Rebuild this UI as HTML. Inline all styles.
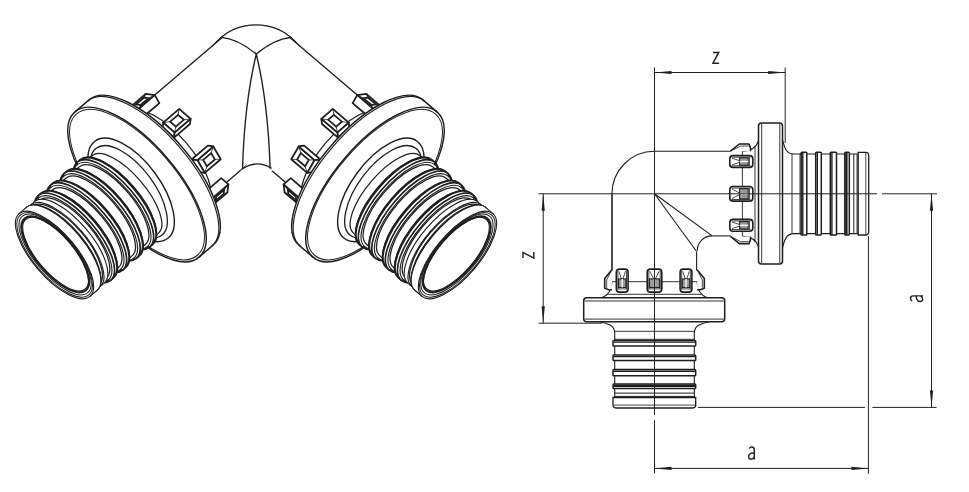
<!DOCTYPE html>
<html><head><meta charset="utf-8"><style>
html,body{margin:0;padding:0;background:#fff;width:969px;height:492px;overflow:hidden;font-family:"Liberation Sans",sans-serif}
svg{display:block}
</style></head><body>
<svg width="969" height="492" viewBox="0 0 969 492">
<defs>
<clipPath id="cl"><rect x="0" y="0" width="256" height="492"/></clipPath>
<clipPath id="cr"><rect x="256" y="0" width="300" height="492"/></clipPath>
</defs>
<rect width="969" height="492" fill="#fff"/>
<g fill="none" stroke-linecap="round">
<circle cx="256" cy="79.6" r="54.7" fill="#fff" stroke="#1e1e1e" stroke-width="1.35"/><g clip-path="url(#cl)"><g transform="translate(54.5,255) rotate(-40.5)"><path d="M120,-56.5 L264.99,-56.5 A22.6,56.5 0 0 1 264.99,56.5 L120,56.5 Z" fill="#fff" stroke="none"/><path d="M120,-56.5 L268,-56.5 M120,56.5 L205,56.5" stroke="#1e1e1e" stroke-width="1.35" fill="none"/></g></g><g clip-path="url(#cr)"><g transform="translate(512,0) scale(-1,1)"><g transform="translate(54.5,255) rotate(-40.5)"><path d="M120,-56.5 L264.99,-56.5 A22.6,56.5 0 0 1 264.99,56.5 L120,56.5 Z" fill="#fff" stroke="none"/><path d="M120,-56.5 L268,-56.5 M120,56.5 L205,56.5" stroke="#1e1e1e" stroke-width="1.35" fill="none"/></g></g></g><path d="M221.2,37.4 Q237.3,38.6 256.3,54 Q275.3,38.6 291.4,37.4" stroke="#1e1e1e" stroke-width="1.35" fill="none" stroke-linejoin="miter"/><path d="M240.5,171 L256,154.5 L273,171 Z" fill="#fff" stroke="none"/><path d="M242.5,168.8 Q256,159.5 271.1,168" stroke="#1e1e1e" stroke-width="1.35" fill="none"/><path d="M256.3,54 Q244.5,103 242.5,168.8 M256.3,54 Q268.1,103 270.1,168.2" stroke="#1e1e1e" stroke-width="1.35" fill="none"/><g transform="translate(54.5,255) rotate(-40.5)"><path d="M122,-60 L149,-60 A24,60 0 0 1 149,60 L122,60 A24,60 0 0 1 122,-60Z" fill="#fff" stroke="#1e1e1e" stroke-width="1.25"/><path d="M151.02,64.76 L172.02,64.76 L178.04,59.28 L157.04,59.28Z" fill="#fff" stroke="#1e1e1e" stroke-width="1.75" stroke-linejoin="round"/><path d="M157.78,63.39 L168.28,63.39 L171.28,60.65 L160.78,60.65Z" fill="none" stroke="#1e1e1e" stroke-width="1.75"/><path d="M151.02,64.76 L157.78,63.39" stroke="#1e1e1e" stroke-width="0.7"/><path d="M172.02,64.76 L168.28,63.39" stroke="#1e1e1e" stroke-width="0.7"/><path d="M178.04,59.28 L171.28,60.65" stroke="#1e1e1e" stroke-width="0.7"/><path d="M157.04,59.28 L160.78,60.65" stroke="#1e1e1e" stroke-width="0.7"/><path d="M149.65,55.36 L151.02,64.76 L157.04,59.28 L155.67,49.89Z" fill="#fff" stroke="#1e1e1e" stroke-width="1.75" stroke-linejoin="round"/><path d="M155.67,49.89 L176.67,49.89 L178.04,59.28 L157.04,59.28Z" fill="#fff" stroke="#1e1e1e" stroke-width="1.75" stroke-linejoin="round"/><path d="M159.06,-56.44 L180.06,-56.44 L174.26,-63.2 L153.26,-63.2Z" fill="#fff" stroke="#1e1e1e" stroke-width="1.75" stroke-linejoin="round"/><path d="M162.86,-58.13 L173.36,-58.13 L170.46,-61.51 L159.96,-61.51Z" fill="none" stroke="#1e1e1e" stroke-width="1.75"/><path d="M159.06,-56.44 L162.86,-58.13" stroke="#1e1e1e" stroke-width="0.7"/><path d="M180.06,-56.44 L173.36,-58.13" stroke="#1e1e1e" stroke-width="0.7"/><path d="M174.26,-63.2 L170.46,-61.51" stroke="#1e1e1e" stroke-width="0.7"/><path d="M153.26,-63.2 L159.96,-61.51" stroke="#1e1e1e" stroke-width="0.7"/><path d="M157.37,-47.37 L159.06,-56.44 L153.26,-63.2 L151.57,-54.13Z" fill="#fff" stroke="#1e1e1e" stroke-width="1.75" stroke-linejoin="round"/><path d="M157.37,-47.37 L178.37,-47.37 L180.06,-56.44 L159.06,-56.44Z" fill="#fff" stroke="#1e1e1e" stroke-width="1.75" stroke-linejoin="round"/><path d="M167.57,35.14 L188.57,35.14 L191.28,20.64 L170.28,20.64Z" fill="#fff" stroke="#1e1e1e" stroke-width="1.75" stroke-linejoin="round"/><path d="M173.5,31.52 L184,31.52 L185.35,24.27 L174.85,24.27Z" fill="none" stroke="#1e1e1e" stroke-width="1.75"/><path d="M167.57,35.14 L173.5,31.52" stroke="#1e1e1e" stroke-width="0.7"/><path d="M188.57,35.14 L184,31.52" stroke="#1e1e1e" stroke-width="0.7"/><path d="M191.28,20.64 L185.35,24.27" stroke="#1e1e1e" stroke-width="0.7"/><path d="M170.28,20.64 L174.85,24.27" stroke="#1e1e1e" stroke-width="0.7"/><path d="M163.95,30.92 L167.57,35.14 L170.28,20.64 L166.65,16.42Z" fill="#fff" stroke="#1e1e1e" stroke-width="1.75" stroke-linejoin="round"/><path d="M166.65,16.42 L187.65,16.42 L191.28,20.64 L170.28,20.64Z" fill="#fff" stroke="#1e1e1e" stroke-width="1.75" stroke-linejoin="round"/><path d="M170.9,-15.06 L191.9,-15.06 L189.71,-30.09 L168.71,-30.09Z" fill="#fff" stroke="#1e1e1e" stroke-width="1.75" stroke-linejoin="round"/><path d="M175.61,-18.81 L186.11,-18.81 L185.01,-26.33 L174.51,-26.33Z" fill="none" stroke="#1e1e1e" stroke-width="1.75"/><path d="M170.9,-15.06 L175.61,-18.81" stroke="#1e1e1e" stroke-width="0.7"/><path d="M191.9,-15.06 L186.11,-18.81" stroke="#1e1e1e" stroke-width="0.7"/><path d="M189.71,-30.09 L185.01,-26.33" stroke="#1e1e1e" stroke-width="0.7"/><path d="M168.71,-30.09 L174.51,-26.33" stroke="#1e1e1e" stroke-width="0.7"/><path d="M167.14,-11.64 L170.9,-15.06 L168.71,-30.09 L164.95,-26.67Z" fill="#fff" stroke="#1e1e1e" stroke-width="1.75" stroke-linejoin="round"/><path d="M167.14,-11.64 L188.14,-11.64 L191.9,-15.06 L170.9,-15.06Z" fill="#fff" stroke="#1e1e1e" stroke-width="1.75" stroke-linejoin="round"/><path d="M108.5,-95.5 L127,-95.5 A40.11,95.5 0 0 1 127,95.5 L108.5,95.5 A40.11,95.5 0 0 1 108.5,-95.5Z" fill="#fff" stroke="#1e1e1e" stroke-width="1.4375"/><path d="M108.5,-95.5 A40.11,95.5 0 0 1 108.5,95.5" fill="none" stroke="#1e1e1e" stroke-width="1.4375"/><path d="M125,-95.5 A40.11,95.5 0 0 1 125,95.5" fill="none" stroke="#1e1e1e" stroke-width="1.125"/><ellipse cx="108.5" cy="0" rx="39.06" ry="93" fill="none" stroke="#1e1e1e" stroke-width="1.0"/><ellipse cx="0" cy="0" rx="29.1" ry="60.7" transform="translate(100.6,0.3) rotate(3.8)" fill="#fff" stroke="#1e1e1e" stroke-width="1.4"/><ellipse cx="0" cy="0" rx="25.5" ry="54.5" transform="translate(97.5,0.3) rotate(3.8)" fill="#fff" stroke="#1e1e1e" stroke-width="1.3"/><path d="M83,-51 L93,-51 A20.4,51 0 0 1 93,51 L83,51 A20.4,51 0 0 1 83,-51Z" fill="#fff" stroke="#1e1e1e" stroke-width="1.25"/><path d="M83,-51 A20.4,51 0 0 1 83,51" fill="none" stroke="#1e1e1e" stroke-width="1.25"/><path d="M81.4,-55.5 L83,-53.9 A21.56,53.9 0 0 1 83,53.9 L81.4,55.5 A22.2,55.5 0 0 1 81.4,-55.5Z" fill="#fff" stroke="#1e1e1e" stroke-width="1.125"/><path d="M81.4,-55.5 A22.2,55.5 0 0 1 81.4,55.5" fill="none" stroke="#1e1e1e" stroke-width="1.125"/><path d="M77.6,-55.5 L81.4,-55.5 A22.2,55.5 0 0 1 81.4,55.5 L77.6,55.5 A22.2,55.5 0 0 1 77.6,-55.5Z" fill="#fff" stroke="#1e1e1e" stroke-width="2.125"/><path d="M77.6,-55.5 A22.2,55.5 0 0 1 77.6,55.5" fill="none" stroke="#1e1e1e" stroke-width="2.125"/><path d="M76,-53.9 L77.6,-55.5 A22.2,55.5 0 0 1 77.6,55.5 L76,53.9 A21.56,53.9 0 0 1 76,-53.9Z" fill="#fff" stroke="#1e1e1e" stroke-width="1.125"/><path d="M76,-53.9 A21.56,53.9 0 0 1 76,53.9" fill="none" stroke="#1e1e1e" stroke-width="1.125"/><path d="M65.4,-51 L76,-51 A20.4,51 0 0 1 76,51 L65.4,51 A20.4,51 0 0 1 65.4,-51Z" fill="#fff" stroke="#1e1e1e" stroke-width="1.25"/><path d="M65.4,-51 A20.4,51 0 0 1 65.4,51" fill="none" stroke="#1e1e1e" stroke-width="1.25"/><path d="M63.8,-55.5 L65.4,-53.9 A21.56,53.9 0 0 1 65.4,53.9 L63.8,55.5 A22.2,55.5 0 0 1 63.8,-55.5Z" fill="#fff" stroke="#1e1e1e" stroke-width="1.125"/><path d="M63.8,-55.5 A22.2,55.5 0 0 1 63.8,55.5" fill="none" stroke="#1e1e1e" stroke-width="1.125"/><path d="M60,-55.5 L63.8,-55.5 A22.2,55.5 0 0 1 63.8,55.5 L60,55.5 A22.2,55.5 0 0 1 60,-55.5Z" fill="#fff" stroke="#1e1e1e" stroke-width="2.125"/><path d="M60,-55.5 A22.2,55.5 0 0 1 60,55.5" fill="none" stroke="#1e1e1e" stroke-width="2.125"/><path d="M58.4,-53.9 L60,-55.5 A22.2,55.5 0 0 1 60,55.5 L58.4,53.9 A21.56,53.9 0 0 1 58.4,-53.9Z" fill="#fff" stroke="#1e1e1e" stroke-width="1.125"/><path d="M58.4,-53.9 A21.56,53.9 0 0 1 58.4,53.9" fill="none" stroke="#1e1e1e" stroke-width="1.125"/><path d="M47.5,-51 L58.4,-51 A20.4,51 0 0 1 58.4,51 L47.5,51 A20.4,51 0 0 1 47.5,-51Z" fill="#fff" stroke="#1e1e1e" stroke-width="1.25"/><path d="M47.5,-51 A20.4,51 0 0 1 47.5,51" fill="none" stroke="#1e1e1e" stroke-width="1.25"/><path d="M45.9,-55.5 L47.5,-53.9 A21.56,53.9 0 0 1 47.5,53.9 L45.9,55.5 A22.2,55.5 0 0 1 45.9,-55.5Z" fill="#fff" stroke="#1e1e1e" stroke-width="1.125"/><path d="M45.9,-55.5 A22.2,55.5 0 0 1 45.9,55.5" fill="none" stroke="#1e1e1e" stroke-width="1.125"/><path d="M42.1,-55.5 L45.9,-55.5 A22.2,55.5 0 0 1 45.9,55.5 L42.1,55.5 A22.2,55.5 0 0 1 42.1,-55.5Z" fill="#fff" stroke="#1e1e1e" stroke-width="2.125"/><path d="M42.1,-55.5 A22.2,55.5 0 0 1 42.1,55.5" fill="none" stroke="#1e1e1e" stroke-width="2.125"/><path d="M40.5,-53.9 L42.1,-55.5 A22.2,55.5 0 0 1 42.1,55.5 L40.5,53.9 A21.56,53.9 0 0 1 40.5,-53.9Z" fill="#fff" stroke="#1e1e1e" stroke-width="1.125"/><path d="M40.5,-53.9 A21.56,53.9 0 0 1 40.5,53.9" fill="none" stroke="#1e1e1e" stroke-width="1.125"/><path d="M31.6,-51 L40.5,-51 A20.4,51 0 0 1 40.5,51 L31.6,51 A20.4,51 0 0 1 31.6,-51Z" fill="#fff" stroke="#1e1e1e" stroke-width="1.25"/><path d="M31.6,-51 A20.4,51 0 0 1 31.6,51" fill="none" stroke="#1e1e1e" stroke-width="1.25"/><path d="M30,-55.5 L31.6,-53.9 A21.56,53.9 0 0 1 31.6,53.9 L30,55.5 A22.2,55.5 0 0 1 30,-55.5Z" fill="#fff" stroke="#1e1e1e" stroke-width="1.125"/><path d="M30,-55.5 A22.2,55.5 0 0 1 30,55.5" fill="none" stroke="#1e1e1e" stroke-width="1.125"/><path d="M26.2,-55.5 L30,-55.5 A22.2,55.5 0 0 1 30,55.5 L26.2,55.5 A22.2,55.5 0 0 1 26.2,-55.5Z" fill="#fff" stroke="#1e1e1e" stroke-width="2.125"/><path d="M26.2,-55.5 A22.2,55.5 0 0 1 26.2,55.5" fill="none" stroke="#1e1e1e" stroke-width="2.125"/><path d="M24.6,-53.9 L26.2,-55.5 A22.2,55.5 0 0 1 26.2,55.5 L24.6,53.9 A21.56,53.9 0 0 1 24.6,-53.9Z" fill="#fff" stroke="#1e1e1e" stroke-width="1.125"/><path d="M24.6,-53.9 A21.56,53.9 0 0 1 24.6,53.9" fill="none" stroke="#1e1e1e" stroke-width="1.125"/><path d="M19.5,-51 L24.6,-51 A20.4,51 0 0 1 24.6,51 L19.5,51 A20.4,51 0 0 1 19.5,-51Z" fill="#fff" stroke="#1e1e1e" stroke-width="1.25"/><path d="M19.5,-51 A20.4,51 0 0 1 19.5,51" fill="none" stroke="#1e1e1e" stroke-width="1.25"/><path d="M14.5,-53.6 L19.5,-53.6 A21.44,53.6 0 0 1 19.5,53.6 L14.5,53.6 A21.44,53.6 0 0 1 14.5,-53.6Z" fill="#fff" stroke="#1e1e1e" stroke-width="1.125"/><path d="M14.5,-53.6 A21.44,53.6 0 0 1 14.5,53.6" fill="none" stroke="#1e1e1e" stroke-width="1.125"/><path d="M11,-51.5 L14.5,-51.5 A20.6,51.5 0 0 1 14.5,51.5 L11,51.5 A20.6,51.5 0 0 1 11,-51.5Z" fill="#fff" stroke="#1e1e1e" stroke-width="1.25"/><path d="M11,-51.5 A20.6,51.5 0 0 1 11,51.5" fill="none" stroke="#1e1e1e" stroke-width="1.25"/><path d="M9.5,-54.5 L11,-53 A21.2,53 0 0 1 11,53 L9.5,54.5 A21.8,54.5 0 0 1 9.5,-54.5Z" fill="#fff" stroke="#1e1e1e" stroke-width="1.125"/><path d="M9.5,-54.5 A21.8,54.5 0 0 1 9.5,54.5" fill="none" stroke="#1e1e1e" stroke-width="1.125"/><path d="M0,-54.5 L9.5,-54.5 A21.8,54.5 0 0 1 9.5,54.5 L0,54.5 A21.8,54.5 0 0 1 0,-54.5Z" fill="#fff" stroke="#1e1e1e" stroke-width="1.125"/><path d="M0,-54.5 A21.8,54.5 0 0 1 0,54.5" fill="none" stroke="#1e1e1e" stroke-width="1.125"/><ellipse cx="0.2" cy="0" rx="21.04" ry="52.6" fill="none" stroke="#1e1e1e" stroke-width="1.0"/><ellipse cx="0.8" cy="0" rx="20.12" ry="50.3" fill="none" stroke="#1e1e1e" stroke-width="1.0"/><ellipse cx="1" cy="0" rx="18.88" ry="47.2" fill="none" stroke="#1e1e1e" stroke-width="2.125"/><ellipse cx="1.4" cy="0" rx="18.32" ry="45.8" fill="none" stroke="#1e1e1e" stroke-width="1.125"/></g><g transform="translate(512,0) scale(-1,1)"><g transform="translate(54.5,255) rotate(-40.5)"><path d="M122,-60 L149,-60 A24,60 0 0 1 149,60 L122,60 A24,60 0 0 1 122,-60Z" fill="#fff" stroke="#1e1e1e" stroke-width="1.25"/><path d="M151.02,64.76 L172.02,64.76 L178.04,59.28 L157.04,59.28Z" fill="#fff" stroke="#1e1e1e" stroke-width="1.75" stroke-linejoin="round"/><path d="M157.78,63.39 L168.28,63.39 L171.28,60.65 L160.78,60.65Z" fill="none" stroke="#1e1e1e" stroke-width="1.75"/><path d="M151.02,64.76 L157.78,63.39" stroke="#1e1e1e" stroke-width="0.7"/><path d="M172.02,64.76 L168.28,63.39" stroke="#1e1e1e" stroke-width="0.7"/><path d="M178.04,59.28 L171.28,60.65" stroke="#1e1e1e" stroke-width="0.7"/><path d="M157.04,59.28 L160.78,60.65" stroke="#1e1e1e" stroke-width="0.7"/><path d="M149.65,55.36 L151.02,64.76 L157.04,59.28 L155.67,49.89Z" fill="#fff" stroke="#1e1e1e" stroke-width="1.75" stroke-linejoin="round"/><path d="M155.67,49.89 L176.67,49.89 L178.04,59.28 L157.04,59.28Z" fill="#fff" stroke="#1e1e1e" stroke-width="1.75" stroke-linejoin="round"/><path d="M159.06,-56.44 L180.06,-56.44 L174.26,-63.2 L153.26,-63.2Z" fill="#fff" stroke="#1e1e1e" stroke-width="1.75" stroke-linejoin="round"/><path d="M162.86,-58.13 L173.36,-58.13 L170.46,-61.51 L159.96,-61.51Z" fill="none" stroke="#1e1e1e" stroke-width="1.75"/><path d="M159.06,-56.44 L162.86,-58.13" stroke="#1e1e1e" stroke-width="0.7"/><path d="M180.06,-56.44 L173.36,-58.13" stroke="#1e1e1e" stroke-width="0.7"/><path d="M174.26,-63.2 L170.46,-61.51" stroke="#1e1e1e" stroke-width="0.7"/><path d="M153.26,-63.2 L159.96,-61.51" stroke="#1e1e1e" stroke-width="0.7"/><path d="M157.37,-47.37 L159.06,-56.44 L153.26,-63.2 L151.57,-54.13Z" fill="#fff" stroke="#1e1e1e" stroke-width="1.75" stroke-linejoin="round"/><path d="M157.37,-47.37 L178.37,-47.37 L180.06,-56.44 L159.06,-56.44Z" fill="#fff" stroke="#1e1e1e" stroke-width="1.75" stroke-linejoin="round"/><path d="M167.57,35.14 L188.57,35.14 L191.28,20.64 L170.28,20.64Z" fill="#fff" stroke="#1e1e1e" stroke-width="1.75" stroke-linejoin="round"/><path d="M173.5,31.52 L184,31.52 L185.35,24.27 L174.85,24.27Z" fill="none" stroke="#1e1e1e" stroke-width="1.75"/><path d="M167.57,35.14 L173.5,31.52" stroke="#1e1e1e" stroke-width="0.7"/><path d="M188.57,35.14 L184,31.52" stroke="#1e1e1e" stroke-width="0.7"/><path d="M191.28,20.64 L185.35,24.27" stroke="#1e1e1e" stroke-width="0.7"/><path d="M170.28,20.64 L174.85,24.27" stroke="#1e1e1e" stroke-width="0.7"/><path d="M163.95,30.92 L167.57,35.14 L170.28,20.64 L166.65,16.42Z" fill="#fff" stroke="#1e1e1e" stroke-width="1.75" stroke-linejoin="round"/><path d="M166.65,16.42 L187.65,16.42 L191.28,20.64 L170.28,20.64Z" fill="#fff" stroke="#1e1e1e" stroke-width="1.75" stroke-linejoin="round"/><path d="M170.9,-15.06 L191.9,-15.06 L189.71,-30.09 L168.71,-30.09Z" fill="#fff" stroke="#1e1e1e" stroke-width="1.75" stroke-linejoin="round"/><path d="M175.61,-18.81 L186.11,-18.81 L185.01,-26.33 L174.51,-26.33Z" fill="none" stroke="#1e1e1e" stroke-width="1.75"/><path d="M170.9,-15.06 L175.61,-18.81" stroke="#1e1e1e" stroke-width="0.7"/><path d="M191.9,-15.06 L186.11,-18.81" stroke="#1e1e1e" stroke-width="0.7"/><path d="M189.71,-30.09 L185.01,-26.33" stroke="#1e1e1e" stroke-width="0.7"/><path d="M168.71,-30.09 L174.51,-26.33" stroke="#1e1e1e" stroke-width="0.7"/><path d="M167.14,-11.64 L170.9,-15.06 L168.71,-30.09 L164.95,-26.67Z" fill="#fff" stroke="#1e1e1e" stroke-width="1.75" stroke-linejoin="round"/><path d="M167.14,-11.64 L188.14,-11.64 L191.9,-15.06 L170.9,-15.06Z" fill="#fff" stroke="#1e1e1e" stroke-width="1.75" stroke-linejoin="round"/><path d="M108.5,-95.5 L127,-95.5 A40.11,95.5 0 0 1 127,95.5 L108.5,95.5 A40.11,95.5 0 0 1 108.5,-95.5Z" fill="#fff" stroke="#1e1e1e" stroke-width="1.4375"/><path d="M108.5,-95.5 A40.11,95.5 0 0 1 108.5,95.5" fill="none" stroke="#1e1e1e" stroke-width="1.4375"/><path d="M125,-95.5 A40.11,95.5 0 0 1 125,95.5" fill="none" stroke="#1e1e1e" stroke-width="1.125"/><ellipse cx="108.5" cy="0" rx="39.06" ry="93" fill="none" stroke="#1e1e1e" stroke-width="1.0"/><ellipse cx="0" cy="0" rx="29.1" ry="60.7" transform="translate(100.6,0.3) rotate(3.8)" fill="#fff" stroke="#1e1e1e" stroke-width="1.4"/><ellipse cx="0" cy="0" rx="25.5" ry="54.5" transform="translate(97.5,0.3) rotate(3.8)" fill="#fff" stroke="#1e1e1e" stroke-width="1.3"/><path d="M83,-51 L93,-51 A20.4,51 0 0 1 93,51 L83,51 A20.4,51 0 0 1 83,-51Z" fill="#fff" stroke="#1e1e1e" stroke-width="1.25"/><path d="M83,-51 A20.4,51 0 0 1 83,51" fill="none" stroke="#1e1e1e" stroke-width="1.25"/><path d="M81.4,-55.5 L83,-53.9 A21.56,53.9 0 0 1 83,53.9 L81.4,55.5 A22.2,55.5 0 0 1 81.4,-55.5Z" fill="#fff" stroke="#1e1e1e" stroke-width="1.125"/><path d="M81.4,-55.5 A22.2,55.5 0 0 1 81.4,55.5" fill="none" stroke="#1e1e1e" stroke-width="1.125"/><path d="M77.6,-55.5 L81.4,-55.5 A22.2,55.5 0 0 1 81.4,55.5 L77.6,55.5 A22.2,55.5 0 0 1 77.6,-55.5Z" fill="#fff" stroke="#1e1e1e" stroke-width="2.125"/><path d="M77.6,-55.5 A22.2,55.5 0 0 1 77.6,55.5" fill="none" stroke="#1e1e1e" stroke-width="2.125"/><path d="M76,-53.9 L77.6,-55.5 A22.2,55.5 0 0 1 77.6,55.5 L76,53.9 A21.56,53.9 0 0 1 76,-53.9Z" fill="#fff" stroke="#1e1e1e" stroke-width="1.125"/><path d="M76,-53.9 A21.56,53.9 0 0 1 76,53.9" fill="none" stroke="#1e1e1e" stroke-width="1.125"/><path d="M65.4,-51 L76,-51 A20.4,51 0 0 1 76,51 L65.4,51 A20.4,51 0 0 1 65.4,-51Z" fill="#fff" stroke="#1e1e1e" stroke-width="1.25"/><path d="M65.4,-51 A20.4,51 0 0 1 65.4,51" fill="none" stroke="#1e1e1e" stroke-width="1.25"/><path d="M63.8,-55.5 L65.4,-53.9 A21.56,53.9 0 0 1 65.4,53.9 L63.8,55.5 A22.2,55.5 0 0 1 63.8,-55.5Z" fill="#fff" stroke="#1e1e1e" stroke-width="1.125"/><path d="M63.8,-55.5 A22.2,55.5 0 0 1 63.8,55.5" fill="none" stroke="#1e1e1e" stroke-width="1.125"/><path d="M60,-55.5 L63.8,-55.5 A22.2,55.5 0 0 1 63.8,55.5 L60,55.5 A22.2,55.5 0 0 1 60,-55.5Z" fill="#fff" stroke="#1e1e1e" stroke-width="2.125"/><path d="M60,-55.5 A22.2,55.5 0 0 1 60,55.5" fill="none" stroke="#1e1e1e" stroke-width="2.125"/><path d="M58.4,-53.9 L60,-55.5 A22.2,55.5 0 0 1 60,55.5 L58.4,53.9 A21.56,53.9 0 0 1 58.4,-53.9Z" fill="#fff" stroke="#1e1e1e" stroke-width="1.125"/><path d="M58.4,-53.9 A21.56,53.9 0 0 1 58.4,53.9" fill="none" stroke="#1e1e1e" stroke-width="1.125"/><path d="M47.5,-51 L58.4,-51 A20.4,51 0 0 1 58.4,51 L47.5,51 A20.4,51 0 0 1 47.5,-51Z" fill="#fff" stroke="#1e1e1e" stroke-width="1.25"/><path d="M47.5,-51 A20.4,51 0 0 1 47.5,51" fill="none" stroke="#1e1e1e" stroke-width="1.25"/><path d="M45.9,-55.5 L47.5,-53.9 A21.56,53.9 0 0 1 47.5,53.9 L45.9,55.5 A22.2,55.5 0 0 1 45.9,-55.5Z" fill="#fff" stroke="#1e1e1e" stroke-width="1.125"/><path d="M45.9,-55.5 A22.2,55.5 0 0 1 45.9,55.5" fill="none" stroke="#1e1e1e" stroke-width="1.125"/><path d="M42.1,-55.5 L45.9,-55.5 A22.2,55.5 0 0 1 45.9,55.5 L42.1,55.5 A22.2,55.5 0 0 1 42.1,-55.5Z" fill="#fff" stroke="#1e1e1e" stroke-width="2.125"/><path d="M42.1,-55.5 A22.2,55.5 0 0 1 42.1,55.5" fill="none" stroke="#1e1e1e" stroke-width="2.125"/><path d="M40.5,-53.9 L42.1,-55.5 A22.2,55.5 0 0 1 42.1,55.5 L40.5,53.9 A21.56,53.9 0 0 1 40.5,-53.9Z" fill="#fff" stroke="#1e1e1e" stroke-width="1.125"/><path d="M40.5,-53.9 A21.56,53.9 0 0 1 40.5,53.9" fill="none" stroke="#1e1e1e" stroke-width="1.125"/><path d="M31.6,-51 L40.5,-51 A20.4,51 0 0 1 40.5,51 L31.6,51 A20.4,51 0 0 1 31.6,-51Z" fill="#fff" stroke="#1e1e1e" stroke-width="1.25"/><path d="M31.6,-51 A20.4,51 0 0 1 31.6,51" fill="none" stroke="#1e1e1e" stroke-width="1.25"/><path d="M30,-55.5 L31.6,-53.9 A21.56,53.9 0 0 1 31.6,53.9 L30,55.5 A22.2,55.5 0 0 1 30,-55.5Z" fill="#fff" stroke="#1e1e1e" stroke-width="1.125"/><path d="M30,-55.5 A22.2,55.5 0 0 1 30,55.5" fill="none" stroke="#1e1e1e" stroke-width="1.125"/><path d="M26.2,-55.5 L30,-55.5 A22.2,55.5 0 0 1 30,55.5 L26.2,55.5 A22.2,55.5 0 0 1 26.2,-55.5Z" fill="#fff" stroke="#1e1e1e" stroke-width="2.125"/><path d="M26.2,-55.5 A22.2,55.5 0 0 1 26.2,55.5" fill="none" stroke="#1e1e1e" stroke-width="2.125"/><path d="M24.6,-53.9 L26.2,-55.5 A22.2,55.5 0 0 1 26.2,55.5 L24.6,53.9 A21.56,53.9 0 0 1 24.6,-53.9Z" fill="#fff" stroke="#1e1e1e" stroke-width="1.125"/><path d="M24.6,-53.9 A21.56,53.9 0 0 1 24.6,53.9" fill="none" stroke="#1e1e1e" stroke-width="1.125"/><path d="M19.5,-51 L24.6,-51 A20.4,51 0 0 1 24.6,51 L19.5,51 A20.4,51 0 0 1 19.5,-51Z" fill="#fff" stroke="#1e1e1e" stroke-width="1.25"/><path d="M19.5,-51 A20.4,51 0 0 1 19.5,51" fill="none" stroke="#1e1e1e" stroke-width="1.25"/><path d="M14.5,-53.6 L19.5,-53.6 A21.44,53.6 0 0 1 19.5,53.6 L14.5,53.6 A21.44,53.6 0 0 1 14.5,-53.6Z" fill="#fff" stroke="#1e1e1e" stroke-width="1.125"/><path d="M14.5,-53.6 A21.44,53.6 0 0 1 14.5,53.6" fill="none" stroke="#1e1e1e" stroke-width="1.125"/><path d="M11,-51.5 L14.5,-51.5 A20.6,51.5 0 0 1 14.5,51.5 L11,51.5 A20.6,51.5 0 0 1 11,-51.5Z" fill="#fff" stroke="#1e1e1e" stroke-width="1.25"/><path d="M11,-51.5 A20.6,51.5 0 0 1 11,51.5" fill="none" stroke="#1e1e1e" stroke-width="1.25"/><path d="M9.5,-54.5 L11,-53 A21.2,53 0 0 1 11,53 L9.5,54.5 A21.8,54.5 0 0 1 9.5,-54.5Z" fill="#fff" stroke="#1e1e1e" stroke-width="1.125"/><path d="M9.5,-54.5 A21.8,54.5 0 0 1 9.5,54.5" fill="none" stroke="#1e1e1e" stroke-width="1.125"/><path d="M0,-54.5 L9.5,-54.5 A21.8,54.5 0 0 1 9.5,54.5 L0,54.5 A21.8,54.5 0 0 1 0,-54.5Z" fill="#fff" stroke="#1e1e1e" stroke-width="1.125"/><path d="M0,-54.5 A21.8,54.5 0 0 1 0,54.5" fill="none" stroke="#1e1e1e" stroke-width="1.125"/><ellipse cx="0.2" cy="0" rx="21.04" ry="52.6" fill="none" stroke="#1e1e1e" stroke-width="1.0"/><ellipse cx="0.8" cy="0" rx="20.12" ry="50.3" fill="none" stroke="#1e1e1e" stroke-width="1.0"/><ellipse cx="1" cy="0" rx="18.88" ry="47.2" fill="none" stroke="#1e1e1e" stroke-width="2.125"/><ellipse cx="1.4" cy="0" rx="18.32" ry="45.8" fill="none" stroke="#1e1e1e" stroke-width="1.125"/></g></g>
</g>
<g fill="none" stroke-linecap="butt">
<path d="M612,270 L612,193.8 A42.5,42.5 0 0 1 654.5,151.3" stroke="#1e1e1e" fill="none" stroke-width="1.1"/><path d="M712.2,235.9 A14.6,14.6 0 0 0 697.4,250.8" stroke="#1e1e1e" fill="none" stroke-width="1.1"/><g stroke-width="1.1"><path d="M654.5,151.3 L731,151.3" stroke="#1e1e1e" fill="none"/><path d="M712.2,235.9 L731,235.9" stroke="#1e1e1e" fill="none"/><path d="M654.5,193.8 L712.2,235.9" stroke="#1e1e1e" fill="none"/><path d="M742.4,151 L742.4,236.6" stroke="#1e1e1e" fill="none" stroke-width="0.9"/><path d="M755,146 L755,241.6" stroke="#1e1e1e" fill="none" stroke-width="0.9"/><path d="M743,151.2 C750,151 755.5,149 758.5,141" stroke="#1e1e1e" fill="none"/><path d="M743,236.4 C750,236.6 755.5,238.6 758.5,246.6" stroke="#1e1e1e" fill="none"/><path d="M730.5,151.2 L739.3,144 L749,144 L750.5,148 L750.5,151.2" stroke="#1e1e1e" stroke-width="1.6" fill="#fff" stroke-linejoin="round"/><path d="M733,150 L740.5,146 L748.5,146" stroke="#1e1e1e" stroke-width="0.8" fill="none"/><path d="M730.5,236.4 L739.3,243.6 L749,243.6 L750.5,239.6 L750.5,236.4" stroke="#1e1e1e" stroke-width="1.6" fill="#fff" stroke-linejoin="round"/><path d="M733,237.6 L740.5,241.6 L748.5,241.6" stroke="#1e1e1e" stroke-width="0.8" fill="none"/><rect x="729.8" y="155.6" width="23" height="11.8" rx="3.2" fill="#fff" stroke="#1e1e1e" stroke-width="1.6"/><rect x="739.6" y="157.79999999999998" width="8.6" height="7.4" fill="#9a9a9a" stroke="#1e1e1e" stroke-width="1.1"/><path d="M739.6,161.5 L748.2,161.5" stroke="#fff" stroke-width="1.3"/><path d="M731.5,157.2 L750.5,157.2 M731.5,165.8 L750.5,165.8 M749.6,157.2 L749.6,165.8" stroke="#1e1e1e" stroke-width="0.8" fill="none"/><path d="M732,158.2 L739.6,160.7 M732,164.8 L739.6,162.3" stroke="#1e1e1e" stroke-width="0.8" fill="none"/><rect x="729.8" y="186.5" width="23" height="14.6" rx="3.2" fill="#fff" stroke="#1e1e1e" stroke-width="1.6"/><rect x="739.6" y="188.7" width="8.6" height="10.2" fill="#9a9a9a" stroke="#1e1e1e" stroke-width="1.1"/><path d="M739.6,193.8 L748.2,193.8" stroke="#fff" stroke-width="1.3"/><path d="M731.5,188.1 L750.5,188.1 M731.5,199.5 L750.5,199.5 M749.6,188.1 L749.6,199.5" stroke="#1e1e1e" stroke-width="0.8" fill="none"/><path d="M732,189.1 L739.6,193.0 M732,198.5 L739.6,194.60000000000002" stroke="#1e1e1e" stroke-width="0.8" fill="none"/><rect x="729.8" y="219.4" width="23" height="11.8" rx="3.2" fill="#fff" stroke="#1e1e1e" stroke-width="1.6"/><rect x="739.6" y="221.6" width="8.6" height="7.4" fill="#9a9a9a" stroke="#1e1e1e" stroke-width="1.1"/><path d="M739.6,225.3 L748.2,225.3" stroke="#fff" stroke-width="1.3"/><path d="M731.5,221.0 L750.5,221.0 M731.5,229.60000000000002 L750.5,229.60000000000002 M749.6,221.0 L749.6,229.60000000000002" stroke="#1e1e1e" stroke-width="0.8" fill="none"/><path d="M732,222.0 L739.6,224.5 M732,228.60000000000002 L739.6,226.10000000000002" stroke="#1e1e1e" stroke-width="0.8" fill="none"/><rect x="758.5" y="123" width="24" height="141" rx="3" fill="#fff" stroke="#1e1e1e" stroke-width="1.5"/><path d="M761.7,124 L761.7,263 M779.8,124 L779.8,263" stroke="#1e1e1e" stroke-width="0.9" fill="none"/><path d="M782.3,139 C784.5,147 785.5,154 794,154 L801.5,154" stroke="#1e1e1e" fill="none" stroke-width="1.1"/><path d="M782.3,248.6 C784.5,240.6 785.5,233.6 794,233.6 L801.5,233.6" stroke="#1e1e1e" fill="none" stroke-width="1.1"/><path d="M792,154 L792,233.6 M800,154 L800,233.6" stroke="#1e1e1e" stroke-width="0.9" fill="none"/><path d="M800,154 L858.5,154 M800,233.6 L858.5,233.6" stroke="#1e1e1e" stroke-width="1.1" fill="none"/><rect x="801.2" y="152.3" width="5.6" height="82.7" rx="0.8" fill="#fff" stroke="#1e1e1e" stroke-width="1.5"/><path d="M802.8000000000001,152.5 L802.8000000000001,234.8" stroke="#1e1e1e" stroke-width="1.4" fill="none"/><rect x="815.7" y="152.3" width="5.6" height="82.7" rx="0.8" fill="#fff" stroke="#1e1e1e" stroke-width="1.5"/><path d="M817.3000000000001,152.5 L817.3000000000001,234.8" stroke="#1e1e1e" stroke-width="1.4" fill="none"/><rect x="830.3" y="152.3" width="6.2" height="82.7" rx="0.8" fill="#fff" stroke="#1e1e1e" stroke-width="1.5"/><path d="M831.9,152.5 L831.9,234.8" stroke="#1e1e1e" stroke-width="1.4" fill="none"/><rect x="844.8" y="152.3" width="4.5" height="82.7" rx="0.8" fill="#fff" stroke="#1e1e1e" stroke-width="1.5"/><path d="M846.4,152.5 L846.4,234.8" stroke="#1e1e1e" stroke-width="2.4" fill="none"/><path d="M853.8,154 L853.8,233.6 M857.1,154 L857.1,233.6" stroke="#1e1e1e" stroke-width="1" fill="none"/><path d="M858.2,152.3 L866,152.3 Q868.7,152.3 868.7,156 L868.7,231.3 Q868.7,235 866,235 L858.2,235 Z" fill="#fff" stroke="#1e1e1e" stroke-width="1.3"/><path d="M865.8,152.8 L865.8,234.5" stroke="#1e1e1e" stroke-width="0.8" fill="none"/></g><g transform="matrix(0,1,1,0,460.70,-460.70)" stroke-width="1.1"><path d="M654.5,151.3 L731,151.3" stroke="#1e1e1e" fill="none"/><path d="M712.2,235.9 L731,235.9" stroke="#1e1e1e" fill="none"/><path d="M654.5,193.8 L712.2,235.9" stroke="#1e1e1e" fill="none"/><path d="M742.4,151 L742.4,236.6" stroke="#1e1e1e" fill="none" stroke-width="0.9"/><path d="M755,146 L755,241.6" stroke="#1e1e1e" fill="none" stroke-width="0.9"/><path d="M743,151.2 C750,151 755.5,149 758.5,141" stroke="#1e1e1e" fill="none"/><path d="M743,236.4 C750,236.6 755.5,238.6 758.5,246.6" stroke="#1e1e1e" fill="none"/><path d="M730.5,151.2 L739.3,144 L749,144 L750.5,148 L750.5,151.2" stroke="#1e1e1e" stroke-width="1.6" fill="#fff" stroke-linejoin="round"/><path d="M733,150 L740.5,146 L748.5,146" stroke="#1e1e1e" stroke-width="0.8" fill="none"/><path d="M730.5,236.4 L739.3,243.6 L749,243.6 L750.5,239.6 L750.5,236.4" stroke="#1e1e1e" stroke-width="1.6" fill="#fff" stroke-linejoin="round"/><path d="M733,237.6 L740.5,241.6 L748.5,241.6" stroke="#1e1e1e" stroke-width="0.8" fill="none"/><rect x="729.8" y="155.6" width="23" height="11.8" rx="3.2" fill="#fff" stroke="#1e1e1e" stroke-width="1.6"/><rect x="739.6" y="157.79999999999998" width="8.6" height="7.4" fill="#9a9a9a" stroke="#1e1e1e" stroke-width="1.1"/><path d="M739.6,161.5 L748.2,161.5" stroke="#fff" stroke-width="1.3"/><path d="M731.5,157.2 L750.5,157.2 M731.5,165.8 L750.5,165.8 M749.6,157.2 L749.6,165.8" stroke="#1e1e1e" stroke-width="0.8" fill="none"/><path d="M732,158.2 L739.6,160.7 M732,164.8 L739.6,162.3" stroke="#1e1e1e" stroke-width="0.8" fill="none"/><rect x="729.8" y="186.5" width="23" height="14.6" rx="3.2" fill="#fff" stroke="#1e1e1e" stroke-width="1.6"/><rect x="739.6" y="188.7" width="8.6" height="10.2" fill="#9a9a9a" stroke="#1e1e1e" stroke-width="1.1"/><path d="M739.6,193.8 L748.2,193.8" stroke="#fff" stroke-width="1.3"/><path d="M731.5,188.1 L750.5,188.1 M731.5,199.5 L750.5,199.5 M749.6,188.1 L749.6,199.5" stroke="#1e1e1e" stroke-width="0.8" fill="none"/><path d="M732,189.1 L739.6,193.0 M732,198.5 L739.6,194.60000000000002" stroke="#1e1e1e" stroke-width="0.8" fill="none"/><rect x="729.8" y="219.4" width="23" height="11.8" rx="3.2" fill="#fff" stroke="#1e1e1e" stroke-width="1.6"/><rect x="739.6" y="221.6" width="8.6" height="7.4" fill="#9a9a9a" stroke="#1e1e1e" stroke-width="1.1"/><path d="M739.6,225.3 L748.2,225.3" stroke="#fff" stroke-width="1.3"/><path d="M731.5,221.0 L750.5,221.0 M731.5,229.60000000000002 L750.5,229.60000000000002 M749.6,221.0 L749.6,229.60000000000002" stroke="#1e1e1e" stroke-width="0.8" fill="none"/><path d="M732,222.0 L739.6,224.5 M732,228.60000000000002 L739.6,226.10000000000002" stroke="#1e1e1e" stroke-width="0.8" fill="none"/><rect x="758.5" y="123" width="24" height="141" rx="3" fill="#fff" stroke="#1e1e1e" stroke-width="1.5"/><path d="M761.7,124 L761.7,263 M779.8,124 L779.8,263" stroke="#1e1e1e" stroke-width="0.9" fill="none"/><path d="M782.3,139 C784.5,147 785.5,154 794,154 L801.5,154" stroke="#1e1e1e" fill="none" stroke-width="1.1"/><path d="M782.3,248.6 C784.5,240.6 785.5,233.6 794,233.6 L801.5,233.6" stroke="#1e1e1e" fill="none" stroke-width="1.1"/><path d="M792,154 L792,233.6 M800,154 L800,233.6" stroke="#1e1e1e" stroke-width="0.9" fill="none"/><path d="M800,154 L858.5,154 M800,233.6 L858.5,233.6" stroke="#1e1e1e" stroke-width="1.1" fill="none"/><rect x="801.2" y="152.3" width="5.6" height="82.7" rx="0.8" fill="#fff" stroke="#1e1e1e" stroke-width="1.5"/><path d="M802.8000000000001,152.5 L802.8000000000001,234.8" stroke="#1e1e1e" stroke-width="1.4" fill="none"/><rect x="815.7" y="152.3" width="5.6" height="82.7" rx="0.8" fill="#fff" stroke="#1e1e1e" stroke-width="1.5"/><path d="M817.3000000000001,152.5 L817.3000000000001,234.8" stroke="#1e1e1e" stroke-width="1.4" fill="none"/><rect x="830.3" y="152.3" width="6.2" height="82.7" rx="0.8" fill="#fff" stroke="#1e1e1e" stroke-width="1.5"/><path d="M831.9,152.5 L831.9,234.8" stroke="#1e1e1e" stroke-width="1.4" fill="none"/><rect x="844.8" y="152.3" width="4.5" height="82.7" rx="0.8" fill="#fff" stroke="#1e1e1e" stroke-width="1.5"/><path d="M846.4,152.5 L846.4,234.8" stroke="#1e1e1e" stroke-width="2.4" fill="none"/><path d="M853.8,154 L853.8,233.6 M857.1,154 L857.1,233.6" stroke="#1e1e1e" stroke-width="1" fill="none"/><path d="M858.2,152.3 L866,152.3 Q868.7,152.3 868.7,156 L868.7,231.3 Q868.7,235 866,235 L858.2,235 Z" fill="#fff" stroke="#1e1e1e" stroke-width="1.3"/><path d="M865.8,152.8 L865.8,234.5" stroke="#1e1e1e" stroke-width="0.8" fill="none"/></g>
<path d="M654.5,67.5 L654.5,415 M654.5,420.3 L654.5,473.5" stroke="#222" stroke-width="1.0"/><path d="M538.6,193.8 L877,193.8 M882,193.8 L937,193.8" stroke="#222" stroke-width="1.0"/><path d="M654.5,72.5 L785.2,72.5 M785.2,67.5 L785.2,143" stroke="#222" stroke-width="1.0"/><path d="M654.5,72.5 L671.5,70.9 L671.5,74.1Z" fill="#1e1e1e"/><path d="M785.2,72.5 L768.2,74.1 L768.2,70.9Z" fill="#1e1e1e"/><path d="M543.2,193.8 L543.2,323.2 M538.6,323.2 L602,323.2" stroke="#222" stroke-width="1.0"/><path d="M543.2,193.8 L544.8,210.8 L541.6,210.8Z" fill="#1e1e1e"/><path d="M543.2,323.2 L541.6,306.2 L544.8,306.2Z" fill="#1e1e1e"/><path d="M931.5,193.8 L931.5,407.4 M698,407.4 L865,407.4 M872.4,407.4 L936.6,407.4" stroke="#222" stroke-width="1.0"/><path d="M931.5,193.8 L933.1,210.8 L929.9,210.8Z" fill="#1e1e1e"/><path d="M931.5,407.4 L929.9,390.4 L933.1,390.4Z" fill="#1e1e1e"/><path d="M654.5,468.4 L868.4,468.4 M868.4,236 L868.4,473.8" stroke="#222" stroke-width="1.0"/><path d="M654.5,468.4 L671.5,466.8 L671.5,470Z" fill="#1e1e1e"/><path d="M868.4,468.4 L851.4,470 L851.4,466.8Z" fill="#1e1e1e"/><path transform="translate(712.5,51.6)" d="M0.5,0.8 L6.2,0.8 L0.5,11.6 L6.6,11.6" fill="none" stroke="#222" stroke-width="1.45" stroke-linejoin="miter" stroke-linecap="butt"/><path transform="translate(522.2,258.6) rotate(-90)" d="M0.5,0.8 L6.2,0.8 L0.5,11.6 L6.6,11.6" fill="none" stroke="#222" stroke-width="1.45" stroke-linejoin="miter" stroke-linecap="butt"/><path transform="translate(748.4,446.8)" d="M0.9,1.9 C1.6,0.7 2.4,0.3 3.3,0.3 C5,0.3 5.9,1.3 5.9,3.1 L5.9,12.8 M5.9,6 C4.8,6 3.6,6.1 2.5,6.6 C0.9,7.3 0.25,8.4 0.25,9.8 C0.25,11.5 1,12.4 2.3,12.4 C3.9,12.4 5.3,11.5 5.9,10.2" fill="none" stroke="#222" stroke-width="1.45" stroke-linejoin="miter" stroke-linecap="butt"/><path transform="translate(910.2,301.8) rotate(-90)" d="M0.9,1.9 C1.6,0.7 2.4,0.3 3.3,0.3 C5,0.3 5.9,1.3 5.9,3.1 L5.9,12.8 M5.9,6 C4.8,6 3.6,6.1 2.5,6.6 C0.9,7.3 0.25,8.4 0.25,9.8 C0.25,11.5 1,12.4 2.3,12.4 C3.9,12.4 5.3,11.5 5.9,10.2" fill="none" stroke="#222" stroke-width="1.45" stroke-linejoin="miter" stroke-linecap="butt"/>
</g>
</svg>
</body></html>
